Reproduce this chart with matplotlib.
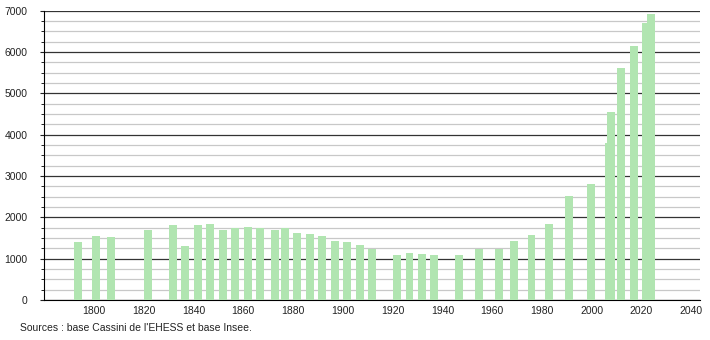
import matplotlib.pyplot as plt
from matplotlib.ticker import MultipleLocator

plt.rcParams['font.family'] = ['Liberation Sans', 'DejaVu Sans']

# années de recensement et population
years = [1793, 1800, 1806, 1821, 1831, 1836, 1841, 1846, 1851, 1856, 1861, 1866,
         1872, 1876, 1881, 1886, 1891, 1896, 1901, 1906, 1911, 1921, 1926, 1931,
         1936, 1946, 1954, 1962, 1968, 1975, 1982, 1990, 1999, 2006, 2007, 2011,
         2016, 2021, 2023]
population = [1403, 1548, 1524, 1694, 1815, 1306, 1815, 1839, 1694, 1734, 1766, 1734,
              1694, 1734, 1621, 1597, 1548, 1435, 1403, 1331, 1234, 1089, 1137, 1113,
              1089, 1089, 1234, 1234, 1427, 1573, 1839, 2516, 2806, 3806, 4556, 5613,
              6145, 6710, 6921]
xticks = [1800, 1820, 1840, 1860, 1880, 1900, 1920, 1940, 1960, 1980, 2000, 2020, 2040]
source = "Sources : base Cassini de l'EHESS et base Insee."

fig = plt.figure(figsize=(7.1, 3.4), dpi=100)
ax = fig.add_axes([0.062, 0.1176, 0.924, 0.851])

ax.bar([y - 0.8 for y in years], population, width=3.2, align='edge',
       color='#b1e5b1', zorder=3)

ax.set_xlim(1780, 2043.5)
ax.set_ylim(0, 7000)
ax.set_xticks(xticks)
ax.yaxis.set_major_locator(MultipleLocator(1000))
ax.yaxis.set_minor_locator(MultipleLocator(250))
ax.grid(axis='y', which='major', color='#333333', linewidth=0.9, zorder=1)
ax.grid(axis='y', which='minor', color='#c8c8c8', linewidth=0.9, zorder=1)

for s in ['top', 'right']:
    ax.spines[s].set_visible(False)
ax.spines['left'].set_color('black')
ax.spines['bottom'].set_color('black')
ax.tick_params(axis='x', length=0, pad=4, labelsize=7.5, colors='#222222')
ax.tick_params(axis='y', which='major', length=3, pad=9, labelsize=7.5, colors='#222222')
ax.tick_params(axis='y', which='minor', length=2.5)

fig.text(20 / 710, 1 - 328 / 340, source, fontsize=7.5, color='#222222', va='center')

plt.savefig('out.png', dpi=100)
